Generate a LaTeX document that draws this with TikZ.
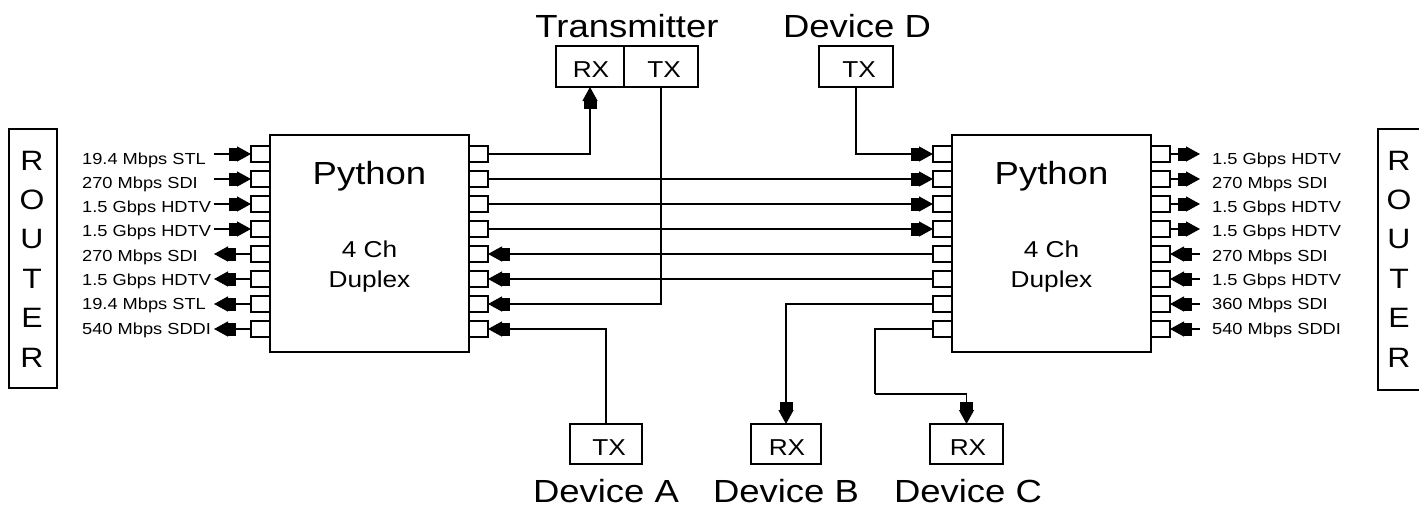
\documentclass[tikz,border=0pt]{standalone}
\usepackage{fontspec}
\setmainfont{Liberation Sans}[FakeStretch=1.14]
\usetikzlibrary{arrows.meta}
\begin{document}
\begin{tikzpicture}[x=1pt,y=-1pt,
  ln/.style={line width=1.3pt},
  arr/.style={ln,-{Rectangle[length=8pt,width=13pt,sep=0pt]Triangle[length=14pt,width=15pt,sep=0pt]}},
  blk/.style={draw,line width=1.3pt,inner sep=0pt,outer sep=0pt},
  port/.style={blk,minimum width=19pt,minimum height=16pt},
  lbl/.style={inner sep=0pt,anchor=base west,font=\fontsize{16}{18}\selectfont},
  big/.style={inner sep=0pt,anchor=base,font=\fontsize{32}{36}\selectfont},
  mid/.style={inner sep=0pt,anchor=base,font=\fontsize{23}{26}\selectfont},
  rtr/.style={inner sep=0pt,anchor=base,font=\fontsize{28}{30}\selectfont}
]
\useasboundingbox (0,0) rectangle (1419,506);
\clip (0,0) rectangle (1419,506);

% routers
\node[blk,minimum width=48pt,minimum height=259pt] (RL) at (33,258.5) {};
\node[blk,minimum width=62pt,minimum height=261pt] (RR) at (1409,259.5) {};
\foreach \c [count=\i from 0] in {R,O,U,T,E,R}{
  \node[rtr] (rl\i) at (32,{170+39.4*\i}) {\c};
  \node[rtr] (rr\i) at (1399,{170+39.4*\i}) {\c};
}

% Python boxes
\node[blk,minimum width=199pt,minimum height=217pt] (PL) at (369.5,243.5) {};
\node[blk,minimum width=199pt,minimum height=217pt] (PR) at (1051.5,243.5) {};
\node[big] (pyL) at (369.5,184) {Python};
\node[mid] (chL) at (369.5,257) {4 Ch};
\node[mid] (dxL) at (369.5,287) {Duplex};
\node[big] (pyR) at (1051.5,184) {Python};
\node[mid] (chR) at (1051.5,257) {4 Ch};
\node[mid] (dxR) at (1051.5,287) {Duplex};

% ports
\foreach \i in {1,...,8}{
  \node[port] (PLl\i) at (260.5,{154+25*(\i-1)}) {};
  \node[port] (PLr\i) at (478.5,{154+25*(\i-1)}) {};
  \node[port] (PRl\i) at (942.5,{154+25*(\i-1)}) {};
  \node[port] (PRr\i) at (1160.5,{154+25*(\i-1)}) {};
  \coordinate (la\i) at (214,{154+25*(\i-1)});
  \coordinate (ra\i) at (1200,{154+25*(\i-1)});
}

% left labels
\foreach \t [count=\i] in {19.4 Mbps STL,270 Mbps SDI,1.5 Gbps HDTV,1.5 Gbps HDTV,270 Mbps SDI,1.5 Gbps HDTV,19.4 Mbps STL,540 Mbps SDDI}{
  \node[lbl] (lt\i) at (82,{164+24.3*(\i-1)}) {\t};
}
\foreach \t [count=\i] in {1.5 Gbps HDTV,270 Mbps SDI,1.5 Gbps HDTV,1.5 Gbps HDTV,270 Mbps SDI,1.5 Gbps HDTV,360 Mbps SDI,540 Mbps SDDI}{
  \node[lbl] (rt\i) at (1212,{164+24.3*(\i-1)}) {\t};
}

% router side arrows
\foreach \i in {1,...,4}{
  \draw[arr] (la\i) -- (PLl\i.west);
  \draw[arr] (PRr\i.east) -- (ra\i);
}
\foreach \i in {5,...,8}{
  \draw[arr] (PLl\i.west) -- (la\i);
  \draw[arr] (ra\i) -- (PRr\i.east);
}

% transmitter and devices
\node[blk,minimum width=68pt,minimum height=41pt] (TRX) at (590,66.5) {};
\node[blk,minimum width=74pt,minimum height=41pt] (TTX) at (661,66.5) {};
\node[mid] (TRXt) at (591,77) {RX};
\node[mid] (TTXt) at (664,77) {TX};
\node[big] (Tt) at (627,37) {Transmitter};

\node[blk,minimum width=74pt,minimum height=41pt] (DD) at (856,66.5) {};
\node[mid] (DDt) at (859,77) {TX};
\node[big] (DDl) at (857,37) {Device D};

\node[blk,minimum width=72pt,minimum height=40pt] (DA) at (606,444) {};
\node[mid] (DAt) at (609,455) {TX};
\node[big] (DAl) at (606,502) {Device A};

\node[blk,minimum width=70pt,minimum height=40pt] (DB) at (786,444) {};
\node[mid] (DBt) at (787,455) {RX};
\node[big] (DBl) at (786,502) {Device B};

\node[blk,minimum width=73pt,minimum height=40pt] (DC) at (966.5,444) {};
\node[mid] (DCt) at (968,455) {RX};
\node[big] (DCl) at (968,502) {Device C};

% connectors between boxes
\draw[arr] (PLr1.east) -| (TRX.south);
\foreach \i in {2,3,4}{
  \draw[arr] (PLr\i.east) -- (PRl\i.west);
}
\foreach \i in {5,6}{
  \draw[arr] (PRl\i.west) -- (PLr\i.east);
}
\draw[arr] (TTX.south) |- (PLr7.east);
\draw[arr] (DA.north) |- (PLr8.east);
\draw[arr] (DD.south) |- (PRl1.west);
\draw[arr] (PRl7.west) -| (DB.north);
\coordinate (cbend) at (875,394);
\draw[ln] (PRl8.west) -| (cbend);
\draw[arr] (cbend) -| (DC.north);
\end{tikzpicture}
\end{document}
